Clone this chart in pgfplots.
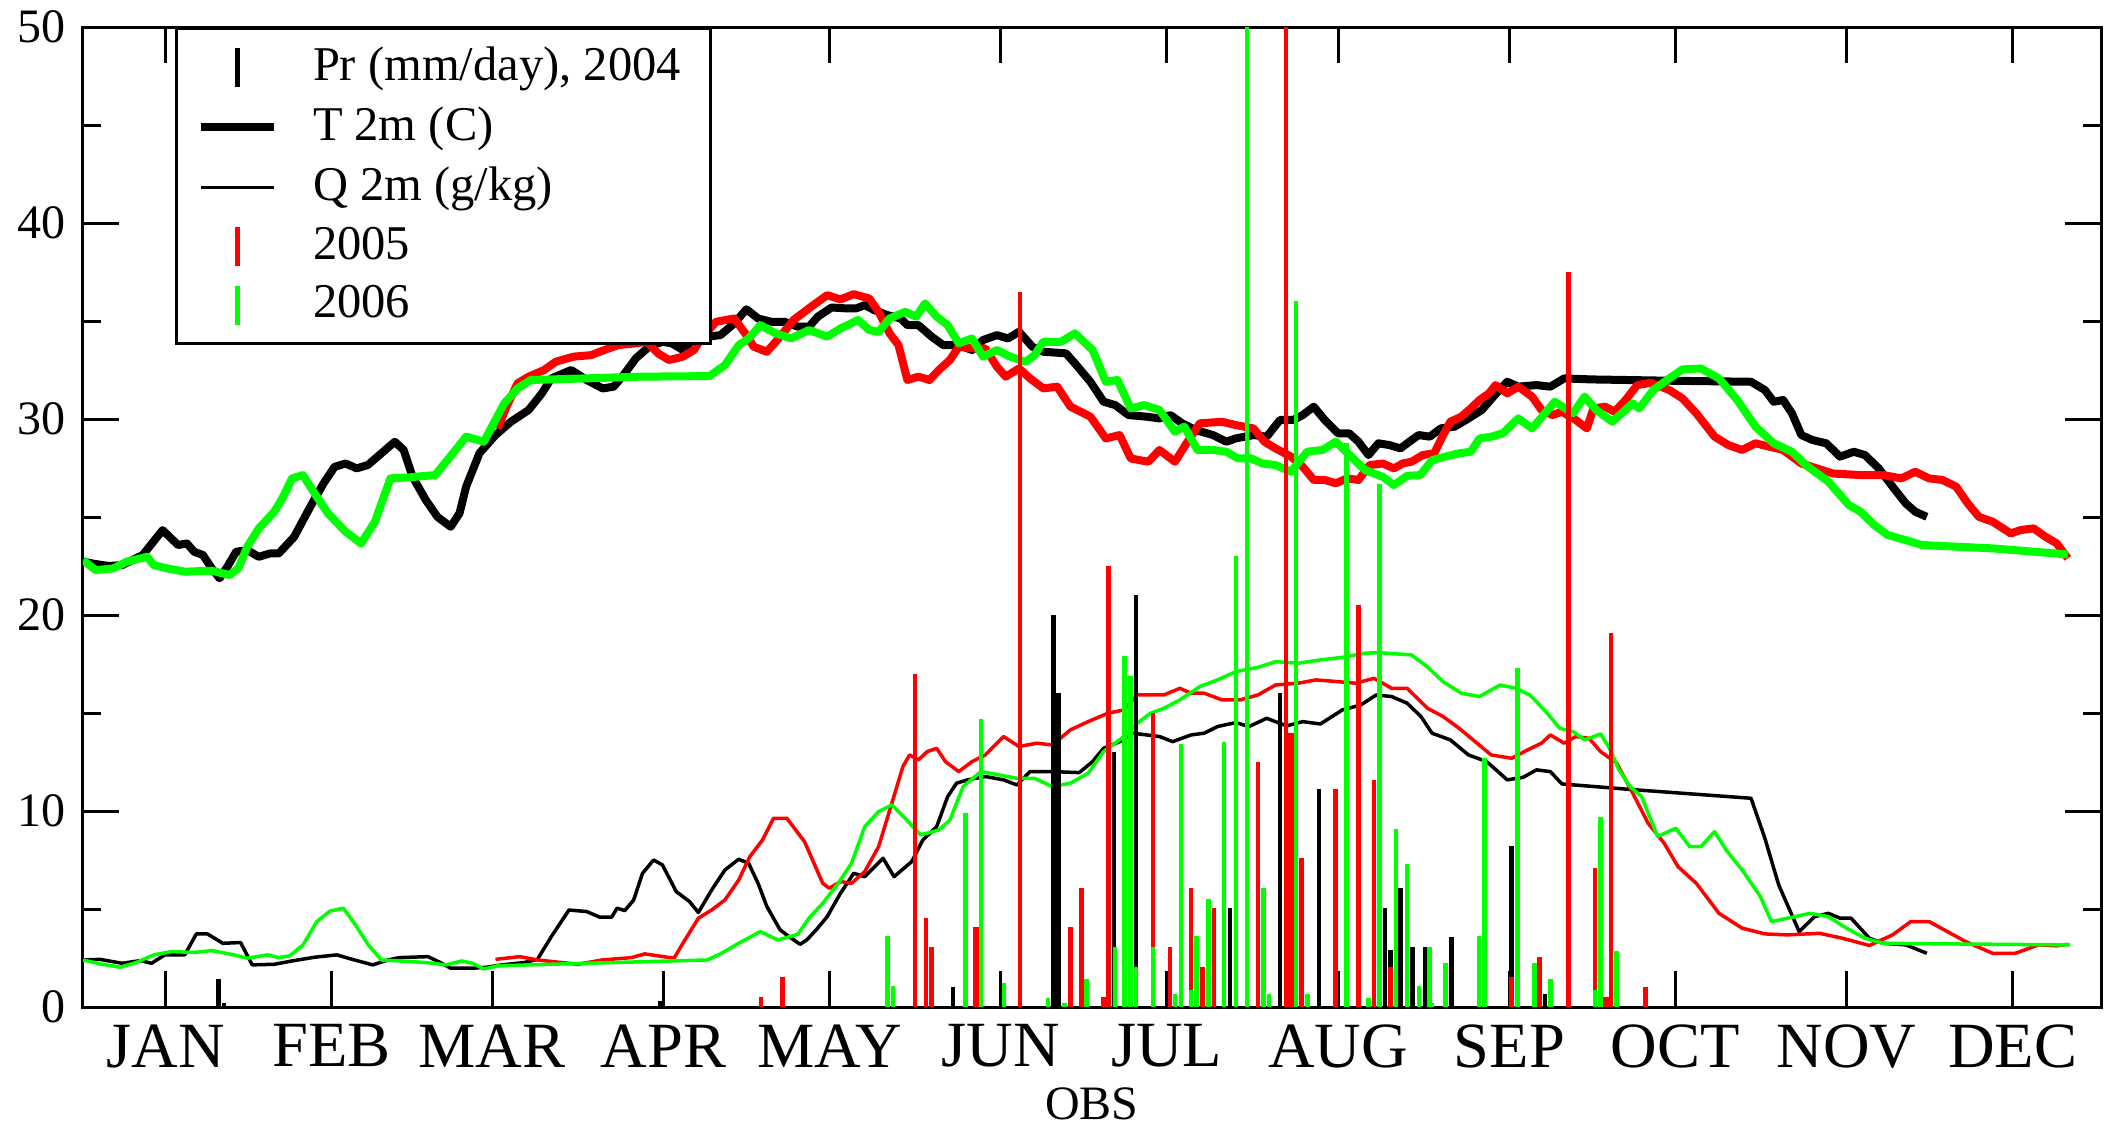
\documentclass[border=0pt]{standalone}
\usepackage{fontspec}
\setmainfont{Liberation Serif}
\usepackage{pgfplots}
\pgfplotsset{compat=1.18}
\definecolor{xred}{RGB}{255,0,0}
\definecolor{xgreen}{RGB}{0,255,0}

\begin{document}
\begin{tikzpicture}
\begin{axis}[
    width=403.6pt, height=196pt, scale only axis,
    xmin=0, xmax=365, ymin=0, ymax=50,
    xtick={15,45,74,105,135,166,196,227,258,288,319,349},
    xticklabels={JAN,FEB,MAR,APR,MAY,JUN,JUL,AUG,SEP,OCT,NOV,DEC},
    ytick={0,10,...,50}, minor ytick={5,15,...,45},
    tick pos=both, tick align=inside,
    major tick length=7.2pt, minor tick length=3.6pt,
    tick style={black, line width=0.6pt},
    axis line style={line width=0.6pt},
    x tick label style={font=\fontsize{12.9}{14}\selectfont},
    y tick label style={font=\fontsize{9.6}{11}\selectfont},
    /pgf/number format/assume math mode=true,
    xlabel={OBS},
    xlabel style={font=\fontsize{9.6}{11}\selectfont, yshift=3pt},
    legend cell align=left,
    legend style={at={(0.0456,1)}, anchor=north west, draw=black, line width=0.6pt,
        font=\fontsize{9.7}{11}\selectfont, inner xsep=4pt, inner ysep=1.6pt,
        row sep=-0.2pt, column sep=5pt},
]
% legend entries
\addlegendimage{legend image code/.code={\path[draw=none] (0pt,0pt) -- (14.6pt,0pt); \draw[black,line width=0.9pt] (7.3pt,-3.9pt) -- (7.3pt,3.9pt);}}
\addlegendentry{Pr (mm/day), 2004}
\addlegendimage{legend image code/.code={\draw[black,line width=1.7pt] (0pt,0pt) -- (14.6pt,0pt);}}
\addlegendentry{T 2m (C)}
\addlegendimage{legend image code/.code={\draw[black,line width=0.7pt] (0pt,0pt) -- (14.6pt,0pt);}}
\addlegendentry{Q 2m (g/kg)}
\addlegendimage{legend image code/.code={\path[draw=none] (0pt,0pt) -- (14.6pt,0pt); \draw[xred,line width=0.9pt] (7.3pt,-3.9pt) -- (7.3pt,3.9pt);}}
\addlegendentry{2005}
\addlegendimage{legend image code/.code={\path[draw=none] (0pt,0pt) -- (14.6pt,0pt); \draw[xgreen,line width=0.9pt] (7.3pt,-3.9pt) -- (7.3pt,3.9pt);}}
\addlegendentry{2006}

% T 2m
\addplot[black, line width=1.6pt, line join=round, forget plot] coordinates {
(0,22.72) (2.3,22.6) (4.7,22.5) (7.1,22.55) (10.8,23.06) (14.4,24.33) (17.2,23.57) (18.8,23.65) (20.1,23.23) (21.7,23.06)
(23.3,22.38) (24.7,21.87) (26.1,22.46) (27.7,23.23) (29.7,23.31) (31.8,22.97) (33.8,23.14) (35.4,23.14) (38.2,23.99) (41.1,25.52)
(43.5,26.71) (45.5,27.56) (47.5,27.73) (49.5,27.48) (51.5,27.65) (53.6,28.16) (56.4,28.84) (58.0,28.42) (59.6,27.06) (62.0,25.87)
(64.1,25.01) (66.5,24.5) (68.1,25.19) (69.3,26.55) (71.7,28.25) (74.6,29.18) (77.4,29.86) (80.6,30.46) (83.0,31.31) (84.7,32.07)
(88.3,32.5) (91.1,31.99) (94.0,31.56) (96.0,31.65) (98.0,32.33) (100.0,33.1) (102.4,33.69) (104.8,33.94) (106.5,33.86) (108.5,33.52)
(110.5,33.86) (113.0,34.2) (115.3,34.28) (117.8,34.88) (120.0,35.6) (122.1,35.13) (124.5,34.96) (126.9,34.96) (129.3,34.71) (131.3,34.71)
(132.9,35.22) (135.4,35.69) (138.2,35.64) (139.8,35.64) (141.4,35.81) (143.1,35.56) (145.5,35.3) (147.9,35.13) (149.1,34.79) (151.1,34.79)
(153.5,34.2) (155.6,33.77) (158.4,33.77) (160.8,33.52) (162.8,34.03) (165.3,34.28) (167.3,34.11) (169.3,34.45) (171.7,33.69) (173.7,33.43)
(177.8,33.35) (179.4,32.84) (182.2,31.9) (184.6,30.88) (186.7,30.71) (189.1,30.2) (192.3,30.12) (194.7,30.03) (196.7,30.2) (198.8,29.78)
(201.2,29.44) (204.4,29.18) (206.8,28.84) (208.5,29.01) (211.7,29.18) (214.1,29.1) (216.5,29.95) (218.9,29.95) (220.6,30.2) (222.6,30.63)
(224.6,29.95) (227.0,29.27) (229.0,29.27) (230.7,28.84) (232.5,28.16) (234.3,28.76) (236.3,28.67) (238.3,28.5) (239.9,28.84) (241.6,29.18)
(243.6,29.1) (245.6,29.52) (248.1,29.61) (250.6,30.03) (253.0,30.46) (255.1,31.14) (257.6,31.9) (259.6,31.65) (262.9,31.73) (265.4,31.65)
(267.9,32.07) (272.8,32.02) (287.7,31.95) (301.7,31.9) (304.2,31.48) (305.8,30.88) (307.5,30.97) (309.1,30.29) (310.8,29.18) (312.8,28.93)
(315.3,28.76) (317.8,28.08) (320.3,28.33) (322.3,28.16) (324.8,27.48) (327.3,26.55) (329.7,25.69) (331.4,25.27) (333.5,25.01)
};
\addplot[xred, line width=1.6pt, line join=round, forget plot] coordinates {
(75.0,29.52) (76.6,30.63) (78.6,31.82) (80.6,32.16) (83.4,32.5) (85.5,32.92) (88.7,33.18) (91.9,33.26) (94.3,33.52) (96.8,33.77)
(100.0,33.86) (102.0,33.94) (104.0,33.35) (106.0,33.01) (108.5,33.18) (110.5,33.52) (112.1,34.2) (114.5,34.96) (117.8,35.13) (120.2,34.2)
(121.3,33.69) (123.7,33.43) (126.1,34.2) (128.5,35.05) (131.7,35.73) (134.6,36.32) (137.0,36.1) (139.4,36.37) (142.2,36.15) (143.9,35.47)
(145.9,34.37) (147.5,33.77) (149.1,31.99) (151.1,32.16) (153.1,31.99) (154.8,32.5) (156.8,33.01) (158.4,33.69) (160.8,33.6) (163.2,33.6)
(165.3,32.67) (166.9,32.16) (169.3,32.58) (171.3,32.07) (173.7,31.56) (176.2,31.65) (178.6,30.63) (182.2,30.12) (185.0,29.01) (187.5,29.18)
(189.5,27.99) (191.1,27.9) (192.7,27.82) (194.7,28.42) (197.5,27.82) (199.6,28.76) (202.0,29.78) (206.0,29.86) (208.5,29.69) (211.7,29.52)
(213.7,28.84) (215.7,28.5) (218.5,28.08) (220.6,27.57) (222.6,26.89) (224.6,26.89) (226.6,26.72) (228.6,26.97) (230.7,26.89) (232.7,27.65)
(235.1,27.73) (237.1,27.48) (238.7,27.73) (240.3,27.82) (242.3,28.16) (244.4,28.25) (246.0,29.18) (247.3,29.86) (249.3,30.12) (251.0,30.54)
(252.6,30.97) (254.3,31.31) (255.5,31.73) (257.6,31.31) (259.6,31.65) (262.1,31.14) (263.8,30.46) (265.8,30.2) (267.5,30.37) (270.0,29.95)
(272.0,29.52) (273.2,30.54) (275.3,30.63) (277.0,30.37) (279.0,30.97) (281.1,31.73) (283.6,31.85) (286.9,31.48) (289.3,31.05) (291.8,30.29)
(295.1,29.1) (297.6,28.67) (300.1,28.42) (302.5,28.76) (307.5,28.42) (310.8,27.73) (316.5,27.22) (321.5,27.14) (325.6,27.14) (328.9,26.97)
(331.4,27.31) (333.9,26.97) (336.3,26.89) (338.8,26.55) (340.9,25.69) (342.9,25.01) (345.4,24.76) (348.7,24.16) (350.4,24.33) (352.8,24.42)
(354.9,24.0) (357.0,23.65) (359.0,22.89)
};
\addplot[xgreen, line width=1.6pt, line join=round, forget plot] coordinates {
(0,22.8) (2.3,22.29) (5.5,22.38) (7.9,22.72) (11.6,22.97) (12.8,22.55) (15.2,22.38) (18.4,22.21) (23.3,22.26) (26.5,22.04)
(28.1,22.38) (29.7,23.48) (31.8,24.42) (34.6,25.27) (36.2,26.03) (37.8,26.97) (39.8,27.14) (41.5,26.37) (44.3,25.19) (47.5,24.25)
(50.3,23.65) (52.8,24.76) (55.6,26.97) (58.8,27.02) (63.7,27.14) (66.9,28.25) (69.3,29.1) (72.5,28.84) (74.6,29.95) (76.2,30.8)
(78.6,31.56) (81.0,31.99) (84.7,32.02) (100.8,32.16) (113.3,32.19) (116.1,32.75) (118.6,33.77) (120.4,34.11) (122.5,34.79) (125.3,34.37)
(128.1,34.11) (131.3,34.54) (134.6,34.2) (137.0,34.62) (140.2,35.05) (142.2,34.54) (143.9,34.45) (145.9,35.13) (148.7,35.47) (150.7,35.22)
(152.3,35.9) (154.4,35.22) (156.4,34.79) (158.4,33.86) (160.8,34.11) (162.8,33.18) (165.3,33.52) (167.7,33.18) (170.5,32.92) (172.1,33.26)
(173.7,33.94) (176.9,33.94) (179.4,34.37) (182.6,33.52) (185.0,31.9) (187.1,31.99) (189.5,30.54) (191.9,30.71) (194.7,30.46) (197.5,29.35)
(199.2,29.61) (201.6,28.42) (204.4,28.42) (206.8,28.33) (208.9,27.99) (211.3,27.99) (213.3,27.73) (215.7,27.65) (218.5,27.31) (221.4,28.33)
(224.2,28.42) (226.6,28.84) (229.4,28.08) (231.9,27.39) (235.1,27.05) (237.1,26.63) (239.5,27.1) (241.9,27.14) (244.0,27.9) (246.4,28.08)
(248.9,28.25) (251.0,28.33) (252.6,29.01) (254.7,29.1) (256.8,29.27) (259.6,30.03) (262.1,29.52) (266.2,30.88) (269.5,30.29) (271.6,31.14)
(273.7,30.46) (276.6,29.86) (280.3,30.8) (281.5,30.54) (284.0,31.48) (286.9,32.07) (289.3,32.53) (292.6,32.58) (295.9,32.07) (299.2,30.97)
(302.5,29.61) (305.8,28.76) (309.1,28.33) (311.6,27.65) (315.7,26.8) (319.4,25.61) (321.5,25.27) (324.0,24.59) (326.4,24.08) (329.7,23.82)
(332.6,23.57) (345.4,23.4) (359.0,23.09)
};

% Q 2m
\addplot[black, line width=0.7pt, line join=round, forget plot] coordinates {
(0,2.4) (3.1,2.43) (7.1,2.23) (10.4,2.37) (12.4,2.23) (14.8,2.66) (18.4,2.66) (20.5,3.73) (22.5,3.73) (25.3,3.25)
(28.5,3.29) (30.6,2.15) (34.6,2.18) (37.8,2.35) (41.9,2.54) (45.9,2.66) (49.1,2.4) (52.4,2.15) (55.2,2.4) (57.2,2.52)
(62.4,2.57) (64.9,2.23) (66.5,1.98) (70.5,1.98) (73.0,2.03) (75.8,2.15) (79.8,2.27) (82.2,2.43) (84.7,3.59) (87.9,4.95)
(91.1,4.87) (93.5,4.58) (95.6,4.58) (96.6,5.04) (98.0,4.92) (99.6,5.46) (101.2,6.82) (103.2,7.5) (104.8,7.25) (107.3,5.89)
(109.7,5.38) (111.3,4.82) (113.7,5.97) (116.1,6.99) (118.6,7.54) (120.4,7.33) (122.1,6.31) (123.7,5.12) (126.1,3.93) (127.7,3.59)
(129.7,3.2) (130.9,3.42) (132.6,3.93) (134.6,4.61) (137.0,5.8) (139.4,6.82) (141.4,6.65) (144.7,7.59) (146.7,6.65) (149.9,7.42)
(151.9,8.52) (154.4,9.2) (156.4,10.74) (158.0,11.42) (160.0,11.59) (163.2,11.76) (166.5,11.59) (168.9,11.33) (171.3,12.01) (175.3,12.01)
(180.2,11.96) (182.6,12.52) (184.6,13.2) (187.5,13.54) (189.9,13.97) (194.7,13.8) (197.1,13.54) (200.4,13.88) (202.8,13.97) (205.2,14.31)
(208.5,14.51) (210.9,14.31) (214.1,14.73) (217.7,14.34) (220.6,14.56) (223.8,14.44) (227.8,15.16) (231.1,15.41) (233.9,15.92) (236.7,15.84)
(239.5,15.5) (242.0,14.82) (244.0,13.97) (247.3,13.63) (250.6,12.86) (253.9,12.52) (257.6,11.59) (260.5,11.72) (262.9,12.1) (265.4,12.01)
(267.5,11.38) (279.4,11.11) (301.7,10.65) (304.2,8.61) (306.7,6.23) (310.4,3.85) (313.2,4.61) (315.7,4.78) (317.8,4.53) (319.8,4.53)
(323.1,3.51) (325.6,3.25) (329.7,3.17) (333.5,2.74)
};
\addplot[xred, line width=0.7pt, line join=round, forget plot] coordinates {
(74.6,2.43) (79.0,2.57) (82.2,2.4) (89.5,2.18) (93.9,2.4) (99.2,2.52) (101.6,2.71) (104.0,2.61) (106.9,2.49) (108.5,3.25)
(111.3,4.53) (113.7,4.95) (116.1,5.46) (118.6,6.48) (120.6,7.67) (122.9,8.52) (124.9,9.63) (127.3,9.63) (130.5,8.44) (133.8,6.31)
(135.0,6.06) (137.0,6.4) (139.0,6.31) (141.4,6.91) (143.9,8.18) (146.3,10.4) (148.3,12.27) (149.5,12.86) (151.1,12.61) (152.7,13.03)
(154.4,13.2) (156.0,12.52) (158.4,12.01) (160.8,12.52) (163.2,12.86) (166.5,13.8) (169.3,13.29) (172.5,13.46) (175.3,13.37) (178.6,14.14)
(181.8,14.56) (185.4,14.99) (188.3,15.16) (190.7,15.92) (195.5,15.92) (198.4,16.26) (200.4,16.01) (202.8,16.01) (206.0,15.67) (209.3,15.67)
(212.5,15.92) (215.7,16.43) (219.8,16.52) (223.0,16.69) (227.0,16.6) (230.2,16.52) (233.5,16.77) (235.1,16.52) (236.7,16.26) (239.5,16.26)
(243.2,15.24) (246.0,14.82) (248.9,14.22) (251.8,13.54) (254.7,12.86) (258.4,12.69) (261.3,13.12) (263.8,13.46) (265.4,13.88) (267.9,13.46)
(270.0,13.8) (272.4,13.71) (274.5,13.03) (277.4,12.44) (280.3,10.91) (283.1,9.37) (286.0,8.35) (288.5,7.16) (291.8,6.31) (295.9,4.78)
(300.1,4.02) (304.2,3.73) (308.3,3.68) (314.1,3.76) (318.2,3.51) (323.1,3.14) (327.3,3.68) (330.6,4.36) (333.9,4.36) (337.2,3.85)
(340.5,3.34) (345.4,2.74) (349.5,2.74) (353.7,3.17) (357.0,3.12) (359.0,3.2)
};
\addplot[xgreen, line width=0.7pt, line join=round, forget plot] coordinates {
(0,2.4) (3.1,2.2) (6.7,2.03) (9.6,2.27) (12.8,2.66) (16.0,2.83) (20.1,2.78) (23.3,2.88) (27.3,2.66) (29.7,2.49)
(33.4,2.66) (35.4,2.52) (37.4,2.61) (39.8,3.17) (42.3,4.36) (44.7,4.9) (47.1,5.04) (49.1,4.27) (51.6,3.17) (54.0,2.4)
(57.2,2.35) (62.0,2.27) (65.7,2.15) (68.5,2.35) (70.5,2.23) (72.5,1.94) (75.0,2.1) (80.6,2.15) (112.9,2.4) (115.3,2.71)
(118.6,3.25) (122.5,3.85) (125.7,3.42) (129.3,3.71) (131.3,4.53) (133.8,5.29) (136.6,6.31) (139.0,7.33) (141.4,9.2) (143.9,9.97)
(146.3,10.31) (148.7,9.63) (151.5,8.78) (154.8,9.03) (156.8,9.54) (159.2,11.25) (162.4,12.01) (165.7,11.84) (168.9,11.67) (172.1,11.67)
(175.3,11.25) (178.6,11.42) (181.8,11.93) (184.6,13.03) (188.3,13.8) (190.7,14.48) (193.1,14.99) (195.5,15.24) (198.4,15.67) (202.0,16.35)
(205.2,16.69) (208.5,17.11) (212.5,17.33) (215.7,17.62) (219.8,17.54) (223.8,17.71) (227.8,17.84) (231.9,18.05) (234.3,18.08) (237.5,18.02)
(240.3,17.96) (243.1,17.37) (246.0,16.6) (249.3,16.01) (252.6,15.84) (256.3,16.43) (259.2,16.26) (261.7,15.92) (264.6,15.07) (267.1,14.22)
(269.5,14.05) (271.6,13.63) (274.5,13.93) (276.1,13.2) (277.8,12.1) (279.8,11.25) (281.9,10.74) (284.8,8.7) (288.1,9.12) (290.6,8.18)
(292.6,8.18) (295.1,8.95) (297.2,8.01) (300.1,6.99) (303.4,5.63) (305.4,4.36) (308.3,4.53) (312.4,4.78) (315.7,4.61) (319.0,4.02)
(322.3,3.51) (325.6,3.25) (337.2,3.22) (359.4,3.17)
};

% Pr bars
\addplot[ycomb, black, line width=0.9pt, forget plot] coordinates {
(24.5,1.45) (25.5,0.2) (104.4,0.3) (157.4,1.0) (175.5,20.0) (176.4,16.0) (186.5,13.0) (190.5,21.0) (207.5,5.05) (216.5,16.0)
(223.6,11.1) (235.5,5.05) (236.5,2.9) (238.3,6.06) (240.5,3.08) (242.8,3.08) (247.5,3.59) (258.4,8.2) (264.4,0.65)
};
\addplot[ycomb, xred, line width=0.9pt, forget plot] coordinates {
(122.6,0.5) (126.5,1.52) (150.5,17.0) (152.5,4.56) (153.5,3.08) (161.3,4.07) (161.8,4.07) (169.5,36.5) (178.6,4.07) (180.6,6.06)
(184.6,0.53) (185.5,22.5) (193.5,15.0) (196.6,3.08) (200.4,6.06) (202.5,2.06) (204.6,5.05) (212.5,12.5) (217.6,55) (218.4,14.0)
(218.9,14.0) (220.4,7.6) (226.5,11.1) (230.7,20.5) (233.5,11.6) (236.5,2.06) (258.4,1.55) (263.4,2.57) (268.7,37.5) (273.5,7.08)
(275.3,0.53) (275.8,0.53) (276.4,19.1) (282.6,1.0)
};
\addplot[ycomb, xgreen, line width=0.9pt, forget plot] coordinates {
(145.5,3.63) (146.5,1.08) (159.6,9.92) (162.4,14.7) (166.6,1.21) (174.5,0.44) (177.5,0.2) (181.5,1.45) (186.7,3.08) (188.4,17.9)
(189.5,16.9) (190.5,2.06) (193.5,3.08) (197.5,0.67) (198.6,13.4) (200.4,0.87) (201.4,3.63) (203.6,5.5) (206.4,13.5) (208.5,23.0)
(210.5,55) (213.5,6.06) (214.5,0.65) (219.4,36.0) (221.5,0.65) (228.5,28.8) (232.5,0.44) (234.5,26.7) (237.5,9.07) (239.5,7.3)
(241.6,1.08) (243.5,3.08) (243.9,0.2) (246.4,2.23) (252.5,3.63) (253.5,12.7) (259.5,17.3) (262.5,2.23) (265.4,1.45) (273.5,0.87)
(274.5,9.71) (277.4,2.88)
};
\end{axis}
\pgfresetboundingbox
\useasboundingbox (-16.6pt,-24pt) rectangle (406.4pt,201.4pt);
\end{tikzpicture}
\end{document}
